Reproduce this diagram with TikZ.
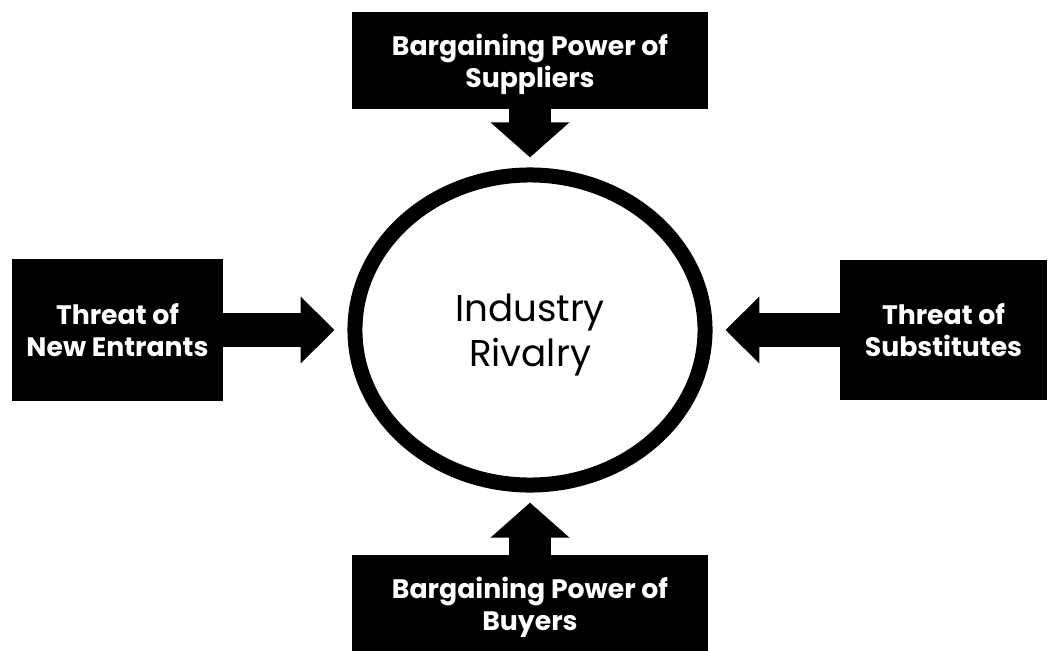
\documentclass[tikz,border=0pt]{standalone}
\usepackage{fontspec}
\setmainfont{Poppins}
\usetikzlibrary{arrows.meta, positioning, shapes.geometric}

\begin{document}
\begin{tikzpicture}[x=0.025cm, y=-0.025cm,
    forcebox/.style={rectangle, fill=black, text=white, inner sep=0pt, align=center, text depth=0pt,
        font=\bfseries\fontsize{19}{23}\selectfont},
    vertarrow/.style={line width=1.05cm, -{Triangle[length=0.875cm, width=1.925cm]}, shorten >=0.44cm},
    horzarrow/.style={line width=0.85cm, -{Triangle[length=0.85cm, width=1.625cm]}, shorten >=0.51cm}]
    \useasboundingbox (0,0) rectangle (1048,651);

    % 中心
    \node[ellipse, draw, line width=0.375cm, outer sep=0pt, inner sep=0pt, text depth=0pt,
        minimum width=8.75cm, minimum height=7.75cm, align=center,
        font=\fontsize{26.5}{32}\selectfont] (rivalry) at (530,330) {Industry\\Rivalry};

    % 上下
    \node[forcebox, minimum width=8.9cm, minimum height=2.425cm] (suppliers) at (530,60.5) {Bargaining Power of\\Suppliers};
    \node[forcebox, minimum width=8.9cm, minimum height=2.425cm] (buyers) at (530,603.5) {Bargaining Power of\\Buyers};
    \draw[vertarrow] (suppliers) -- (rivalry);
    \draw[vertarrow] (buyers) -- (rivalry);

    % 左右
    \node[forcebox, minimum width=5.275cm, minimum height=3.525cm] (entrants) at (117.5,330) {Threat of\\New Entrants};
    \node[forcebox, minimum width=5.175cm, minimum height=3.5cm] (substitutes) at (943.5,330) {Threat of\\Substitutes};
    \draw[horzarrow] (entrants) -- (rivalry);
    \draw[horzarrow] (substitutes) -- (rivalry);
\end{tikzpicture}
\end{document}
